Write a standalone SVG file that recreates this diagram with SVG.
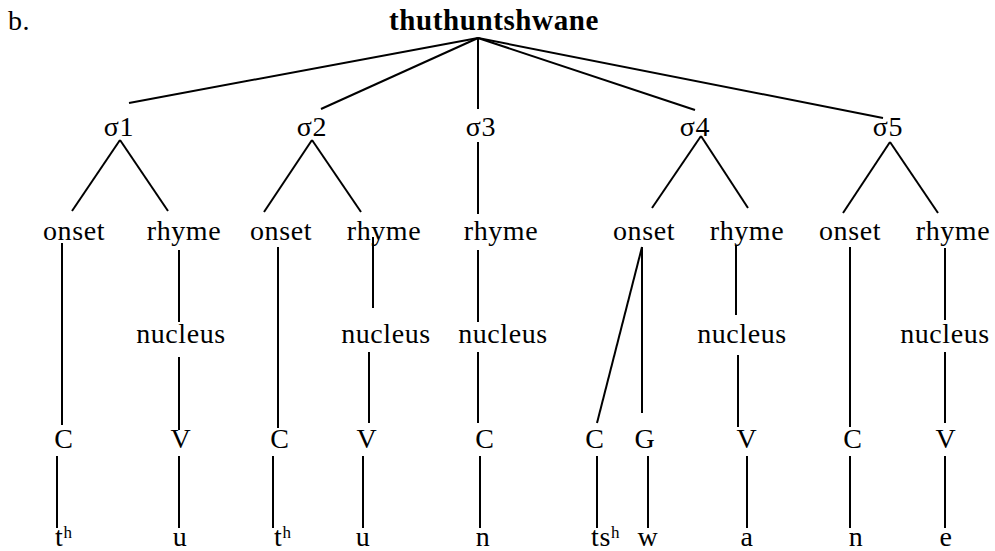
<svg xmlns="http://www.w3.org/2000/svg" width="995" height="551" viewBox="0 0 995 551">
  <style>
    text { font-family: "Liberation Serif", "DejaVu Serif", serif; font-size: 28px; letter-spacing: 0.6px; fill: #000; }
    .lbl { text-anchor: middle; }
    .title { font-weight: bold; text-anchor: middle; font-size: 29px; }
    .sup { font-size: 17px; letter-spacing: 0; }
    #connectors line { stroke: #000; stroke-width: 2; stroke-linecap: butt; }
  </style>
  <rect width="995" height="551" fill="#fff"/>

  <text x="8" y="30">b.</text>

  <g id="connectors">
    <!-- word to syllables -->
    <line x1="478" y1="38" x2="129" y2="103"/>
    <line x1="478" y1="38" x2="321" y2="109"/>
    <line x1="478" y1="38" x2="478" y2="109"/>
    <line x1="478" y1="38" x2="695" y2="110"/>
    <line x1="478" y1="38" x2="883" y2="118"/>
    <!-- syllables to onset / rhyme -->
    <line x1="120" y1="140" x2="72" y2="211"/>
    <line x1="120" y1="140" x2="168" y2="211"/>
    <line x1="312" y1="140" x2="264" y2="212"/>
    <line x1="312" y1="140" x2="361" y2="212"/>
    <line x1="478" y1="142" x2="478" y2="214"/>
    <line x1="701" y1="136" x2="652" y2="208"/>
    <line x1="701" y1="136" x2="748" y2="208"/>
    <line x1="890" y1="142" x2="843" y2="213"/>
    <line x1="890" y1="142" x2="938" y2="213"/>
    <!-- onsets to skeleton -->
    <line x1="62" y1="243" x2="62" y2="425"/>
    <line x1="278" y1="247" x2="278" y2="428"/>
    <line x1="642" y1="247" x2="597" y2="423"/>
    <line x1="642" y1="247" x2="642" y2="413"/>
    <line x1="850" y1="247" x2="850" y2="427"/>
    <!-- rhymes to nuclei -->
    <line x1="179" y1="250" x2="179" y2="322"/>
    <line x1="373" y1="237" x2="373" y2="308"/>
    <line x1="478" y1="250" x2="478" y2="322"/>
    <line x1="736" y1="245" x2="736" y2="315"/>
    <line x1="945" y1="248" x2="945" y2="320"/>
    <!-- nuclei to skeleton -->
    <line x1="179" y1="357" x2="179" y2="430"/>
    <line x1="369" y1="352" x2="369" y2="423"/>
    <line x1="478" y1="352" x2="478" y2="423"/>
    <line x1="738" y1="355" x2="738" y2="427"/>
    <line x1="945" y1="352" x2="945" y2="423"/>
    <!-- skeleton to segments -->
    <line x1="57" y1="456" x2="57" y2="528"/>
    <line x1="179" y1="456" x2="179" y2="528"/>
    <line x1="273" y1="456" x2="273" y2="528"/>
    <line x1="363" y1="456" x2="363" y2="528"/>
    <line x1="480" y1="456" x2="480" y2="528"/>
    <line x1="597" y1="456" x2="597" y2="528"/>
    <line x1="648" y1="456" x2="648" y2="528"/>
    <line x1="747" y1="456" x2="747" y2="528"/>
    <line x1="850" y1="456" x2="850" y2="528"/>
    <line x1="945" y1="456" x2="945" y2="528"/>
  </g>

  <g id="word"><text class="title" x="494" y="30">thuthuntshwane</text></g>

  <g id="sigma1"><text class="lbl" x="119" y="136">σ1</text></g>
  <g id="sigma2"><text class="lbl" x="312" y="136">σ2</text></g>
  <g id="sigma3"><text class="lbl" x="481" y="136">σ3</text></g>
  <g id="sigma4"><text class="lbl" x="695" y="136">σ4</text></g>
  <g id="sigma5"><text class="lbl" x="888" y="136">σ5</text></g>

  <g id="onset1"><text class="lbl" x="74" y="240">onset</text></g>
  <g id="rhyme1"><text class="lbl" x="184" y="240">rhyme</text></g>
  <g id="onset2"><text class="lbl" x="281" y="240">onset</text></g>
  <g id="rhyme2"><text class="lbl" x="384" y="240">rhyme</text></g>
  <g id="rhyme3"><text class="lbl" x="501" y="240">rhyme</text></g>
  <g id="onset4"><text class="lbl" x="644" y="240">onset</text></g>
  <g id="rhyme4"><text class="lbl" x="747" y="240">rhyme</text></g>
  <g id="onset5"><text class="lbl" x="850" y="240">onset</text></g>
  <g id="rhyme5"><text class="lbl" x="953" y="240">rhyme</text></g>

  <g id="nucleus1"><text class="lbl" x="181" y="343">nucleus</text></g>
  <g id="nucleus2"><text class="lbl" x="386" y="343">nucleus</text></g>
  <g id="nucleus3"><text class="lbl" x="503" y="343">nucleus</text></g>
  <g id="nucleus4"><text class="lbl" x="742" y="343">nucleus</text></g>
  <g id="nucleus5"><text class="lbl" x="945" y="343">nucleus</text></g>

  <g id="x1"><text class="lbl" x="64" y="448">C</text></g>
  <g id="x2"><text class="lbl" x="181" y="448">V</text></g>
  <g id="x3"><text class="lbl" x="280" y="448">C</text></g>
  <g id="x4"><text class="lbl" x="367" y="448">V</text></g>
  <g id="x5"><text class="lbl" x="485" y="448">C</text></g>
  <g id="x6"><text class="lbl" x="595" y="448">C</text></g>
  <g id="x7"><text class="lbl" x="645" y="448">G</text></g>
  <g id="x8"><text class="lbl" x="747" y="448">V</text></g>
  <g id="x9"><text class="lbl" x="853" y="448">C</text></g>
  <g id="x10"><text class="lbl" x="946" y="448">V</text></g>

  <g id="seg1"><text x="55" y="546">t<tspan class="sup" dy="-8">h</tspan></text></g>
  <g id="seg2"><text class="lbl" x="180" y="546">u</text></g>
  <g id="seg3"><text x="274" y="546">t<tspan class="sup" dy="-8">h</tspan></text></g>
  <g id="seg4"><text class="lbl" x="363" y="546">u</text></g>
  <g id="seg5"><text class="lbl" x="483" y="546">n</text></g>
  <g id="seg6"><text x="591" y="546">ts<tspan class="sup" dy="-8">h</tspan></text></g>
  <g id="seg7"><text class="lbl" x="648" y="546">w</text></g>
  <g id="seg8"><text class="lbl" x="747" y="546">a</text></g>
  <g id="seg9"><text class="lbl" x="856" y="546">n</text></g>
  <g id="seg10"><text class="lbl" x="946" y="546">e</text></g>
</svg>
